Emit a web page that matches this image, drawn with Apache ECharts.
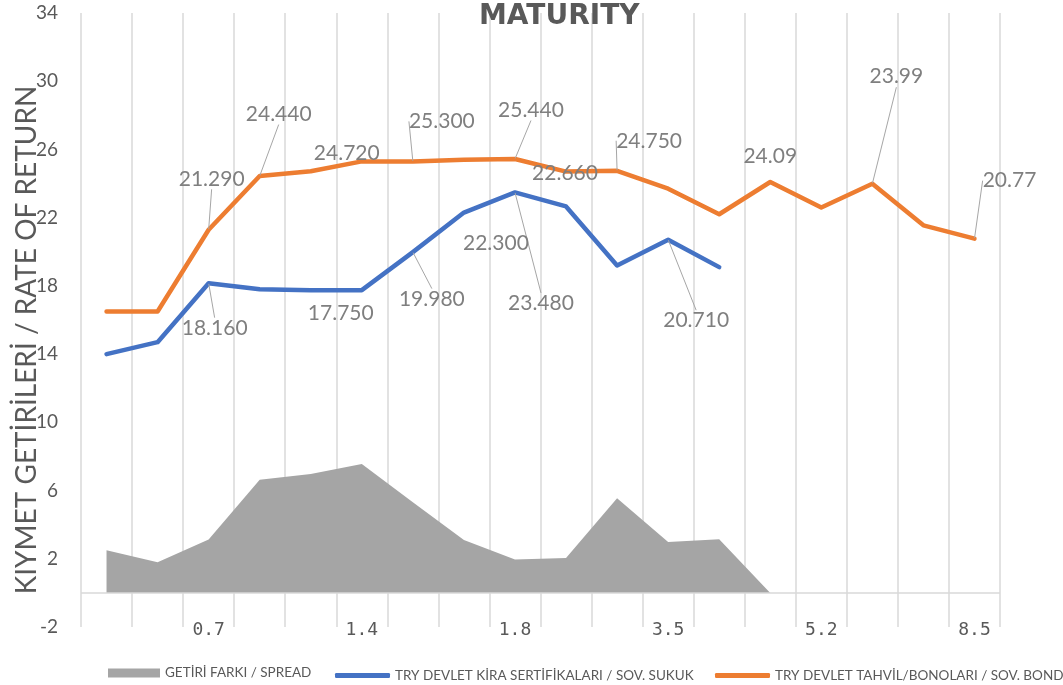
<!DOCTYPE html>
<html>
<head>
<meta charset="utf-8">
<script src="https://cdn.jsdelivr.net/npm/echarts@6/dist/echarts.min.js"></script>
<style>
html,body{margin:0;padding:0;background:#fff;}
#chart{width:1063px;height:685px;}
</style>
</head>
<body>
<div id="chart"></div>
<script>
// ---- data ----
const maturities = ['0.2','0.4','0.7','0.9','1.1','1.4','1.5','1.6','1.8','2.2','2.9','3.5','4.0','4.6','5.2','6.3','7.4','8.5'];
const spread = [2.5, 1.8, 3.13, 6.64, 6.97, 7.55, 5.32, 3.1, 1.96, 2.04, 5.55, 2.99, 3.15, 0];
const sukuk = [14.0, 14.7, 18.16, 17.8, 17.75, 17.75, 19.98, 22.3, 23.48, 22.66, 19.2, 20.71, 19.1];
const bond = [16.5, 16.5, 21.29, 24.44, 24.72, 25.3, 25.3, 25.4, 25.44, 24.7, 24.75, 23.7, 22.2, 24.09, 22.6, 23.99, 21.55, 20.77];
const sukukLabels = ['', '', '18.160', '', '17.750', '', '19.980', '22.300', '23.480', '22.660', '', '20.710', ''];
const bondLabels = ['', '', '21.290', '24.440', '24.720', '', '25.300', '', '25.440', '', '24.750', '', '', '24.09', '', '23.99', '', '20.77'];
const seriesNames = ['GETİRİ FARKI / SPREAD', 'TRY DEVLET KİRA SERTİFİKALARI / SOV. SUKUK', 'TRY DEVLET TAHVİL/BONOLARI / SOV. BOND'];
const titleText = 'MATURITY';
const yAxisName = 'KIYMET GETİRİLERİ / RATE OF RETURN';

// ---- label placement (offsets of label centre from the point, leader line flag) ----
const bondLabelPlace = {2:[3,-51,1], 3:[19,-62,1], 4:[36,-18,0], 6:[29,-40,1], 8:[16,-49,1], 10:[32,-30,1], 13:[0,-26,0], 15:[24,-107,1], 17:[35,-58,1]};
const sukukLabelPlace = {2:[6,45,1], 4:[30,23,0], 6:[19,47,1], 7:[32,31,0], 8:[26,111,1], 9:[-1,-33,0], 11:[28,81,1]};

const FONT = 'Lato';
const labelStyle = {show: true, position: 'inside', color: '#7f7f7f', fontSize: 21, fontFamily: FONT};

function buildData(values, labels, place) {
  return values.map((v, i) => ({
    value: v,
    label: {show: !!labels[i]},
    labelLine: {show: !!(place[i] && place[i][2])}
  }));
}
function layoutFn(place) {
  return function (p) {
    const o = place[p.dataIndex];
    return o ? {dx: o[0], dy: o[1]} : {};
  };
}

const chart = echarts.init(document.getElementById('chart'));
chart.setOption({
  animation: false,
  backgroundColor: '#ffffff',
  title: {
    text: titleText, left: 479, top: 3, padding: 0,
    textStyle: {fontFamily: 'DejaVu Sans', fontWeight: 'bold', fontSize: 28, color: '#595959'}
  },
  grid: {left: 81, right: 63, top: 13, bottom: 58, containLabel: false, outerBoundsMode: 'none'},
  legend: [
    {data: [{name: seriesNames[0], icon: 'rect'}], left: 108, top: 666, padding: 0,
     itemWidth: 52, itemHeight: 9, textStyle: {fontSize: 13.5, color: '#595959', fontFamily: FONT}},
    {data: [{name: seriesNames[1], icon: 'roundRect'}], left: 335, top: 668.5, padding: 0,
     itemWidth: 55, itemHeight: 5, itemStyle: {borderWidth: 0}, textStyle: {fontSize: 13.5, color: '#595959', fontFamily: FONT}},
    {data: [{name: seriesNames[2], icon: 'roundRect'}], left: 715, top: 668.5, padding: 0,
     itemWidth: 55, itemHeight: 5, itemStyle: {borderWidth: 0}, textStyle: {fontSize: 13.5, color: '#595959', fontFamily: FONT}}
  ],
  xAxis: {
    type: 'category', data: maturities, boundaryGap: true,
    axisLine: {show: false, onZero: false},
    axisTick: {show: false},
    splitLine: {show: true, interval: 0, lineStyle: {color: '#d9d9d9', width: 1.5}},
    axisLabel: {interval: (i) => i % 3 === 2, color: '#595959', fontSize: 18, fontFamily: 'DejaVu Sans Mono', margin: -6}
  },
  yAxis: {
    type: 'value', min: -2, max: 34, interval: 4,
    axisLine: {show: false}, axisTick: {show: false}, splitLine: {show: false},
    axisLabel: {color: '#595959', fontSize: 19, fontFamily: FONT, margin: 23},
    name: yAxisName, nameLocation: 'middle', nameGap: 40, nameMoveOverlap: false,
    nameTextStyle: {fontSize: 28, color: '#595959', fontFamily: FONT, padding: [0, 40, 0, 0]}
  },
  series: [
    {
      name: seriesNames[0], type: 'line', data: spread, symbol: 'none',
      lineStyle: {width: 0, color: '#a5a5a5'},
      itemStyle: {color: '#a5a5a5'},
      areaStyle: {color: '#a5a5a5', opacity: 1},
      markLine: {
        silent: true, symbol: ['none', 'none'], label: {show: false},
        lineStyle: {color: '#d9d9d9', width: 1.5, type: 'solid'},
        data: [{yAxis: 0}]
      }
    },
    {
      name: seriesNames[1], type: 'line',
      data: buildData(sukuk, sukukLabels, sukukLabelPlace),
      symbol: 'circle', symbolSize: 1, showSymbol: true, showAllSymbol: true,
      lineStyle: {width: 4.5, color: '#4472c4', cap: 'round', join: 'round'},
      itemStyle: {color: '#4472c4'},
      label: Object.assign({}, labelStyle, {formatter: (p) => sukukLabels[p.dataIndex]}),
      labelLine: {show: true, lineStyle: {color: '#a6a6a6', width: 1}},
      labelLayout: layoutFn(sukukLabelPlace)
    },
    {
      name: seriesNames[2], type: 'line',
      data: buildData(bond, bondLabels, bondLabelPlace),
      symbol: 'circle', symbolSize: 1, showSymbol: true, showAllSymbol: true,
      lineStyle: {width: 4.5, color: '#ed7d31', cap: 'round', join: 'round'},
      itemStyle: {color: '#ed7d31'},
      label: Object.assign({}, labelStyle, {formatter: (p) => bondLabels[p.dataIndex]}),
      labelLine: {show: true, lineStyle: {color: '#a6a6a6', width: 1}},
      labelLayout: layoutFn(bondLabelPlace)
    }
  ]
});
</script>
</body>
</html>
